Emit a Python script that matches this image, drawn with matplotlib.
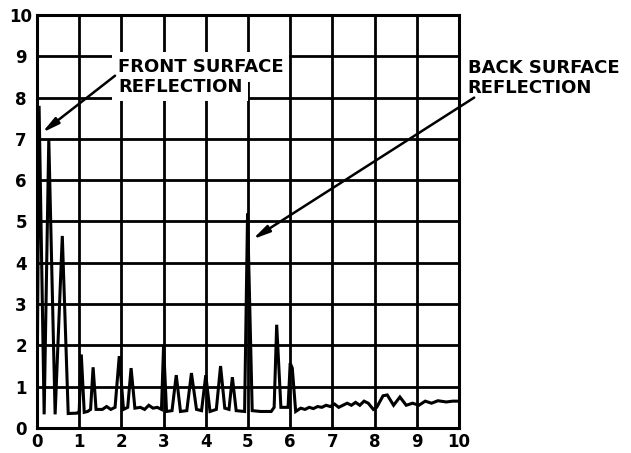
import matplotlib
matplotlib.use("Agg")
import matplotlib.pyplot as plt

# A-scan trace: time base (divisions) and echo amplitude (divisions)
trace_x = [0.00, 0.05, 0.17, 0.28, 0.43, 0.60, 0.74, 0.95, 1.00, 1.05, 1.12, 1.20,
           1.27, 1.33, 1.40, 1.55, 1.65, 1.75, 1.85, 1.95, 2.05, 2.15, 2.23, 2.32,
           2.45, 2.55, 2.65, 2.75, 2.85, 2.95, 3.00, 3.07, 3.20, 3.30, 3.40, 3.55,
           3.66, 3.78, 3.90, 4.00, 4.10, 4.25, 4.35, 4.45, 4.55, 4.63, 4.72, 4.92,
           4.99, 5.10, 5.30, 5.55, 5.62, 5.68, 5.78, 5.95, 6.00, 6.05, 6.13, 6.25,
           6.35, 6.45, 6.55, 6.65, 6.75, 6.85, 6.95, 7.05, 7.15, 7.25, 7.35, 7.45,
           7.55, 7.65, 7.75, 7.85, 7.97, 8.05, 8.20, 8.30, 8.45, 8.60, 8.75, 8.90,
           9.05, 9.20, 9.35, 9.50, 9.70, 9.85, 10.00]
trace_y = [0.40, 7.80, 0.33, 7.00, 0.33, 4.65, 0.35, 0.36, 0.40, 1.78, 0.38, 0.40,
           0.45, 1.47, 0.45, 0.45, 0.52, 0.45, 0.50, 1.74, 0.45, 0.50, 1.45, 0.48,
           0.50, 0.45, 0.55, 0.48, 0.50, 0.45, 2.00, 0.40, 0.42, 1.28, 0.40, 0.42,
           1.33, 0.45, 0.42, 1.28, 0.40, 0.45, 1.50, 0.48, 0.45, 1.23, 0.42, 0.40,
           5.20, 0.42, 0.40, 0.40, 0.50, 2.50, 0.50, 0.50, 1.57, 1.45, 0.40, 0.48,
           0.45, 0.50, 0.47, 0.52, 0.50, 0.55, 0.52, 0.58, 0.50, 0.55, 0.60, 0.55,
           0.62, 0.55, 0.65, 0.60, 0.45, 0.50, 0.78, 0.80, 0.55, 0.75, 0.55, 0.60,
           0.55, 0.65, 0.60, 0.66, 0.63, 0.65, 0.65]

x_ticks = list(range(0, 11))
y_ticks = list(range(0, 11))
x_tick_labels = [str(v) for v in x_ticks]
y_tick_labels = [str(v) for v in y_ticks]

front_label = ["FRONT SURFACE", "REFLECTION"]
back_label = ["BACK SURFACE", "REFLECTION"]
front_tip = (0.12, 7.15)
front_tail = (1.85, 8.53)
back_tip = (5.11, 4.57)
back_tail = (10.36, 8.00)

plt.rcParams["font.family"] = ["DejaVu Sans"]
fig = plt.figure(figsize=(6.31, 4.53), dpi=100)
ax = fig.add_axes([0.0586, 0.0552, 0.6688, 0.9117])
ax.set_xlim(0, 10)
ax.set_ylim(0, 10)

ax.set_xticks(x_ticks)
ax.set_yticks(y_ticks)
ax.set_xticklabels(x_tick_labels, fontsize=12, fontweight="bold")
ax.set_yticklabels(y_tick_labels, fontsize=12, fontweight="bold", ha="center")
ax.tick_params(axis="x", length=0, pad=3.6)
ax.tick_params(axis="y", length=0, pad=11.5)

ax.grid(True, color="black", lw=2.0, zorder=1)
ax.set_axisbelow(True)
for sp in ax.spines.values():
    sp.set_linewidth(2.2)
    sp.set_color("black")

ax.plot(trace_x, trace_y, color="black", lw=2.2, solid_joinstyle="miter", zorder=2)

text_kw = dict(fontsize=13, fontweight="bold", va="center", ha="left", zorder=5)
box = dict(facecolor="white", edgecolor="none", pad=4)
ax.text(1.92, 8.74, front_label[0], bbox=box, **text_kw)
ax.text(1.92, 8.26, front_label[1], bbox=box, **text_kw)
ax.text(10.21, 8.72, back_label[0], clip_on=False, **text_kw)
ax.text(10.21, 8.24, back_label[1], clip_on=False, **text_kw)

arrow = dict(arrowstyle="-|>,head_length=1.0,head_width=0.22", color="black",
             lw=1.8, shrinkA=0, shrinkB=0)
ax.annotate("", xy=front_tip, xytext=front_tail, arrowprops=arrow,
            annotation_clip=False, zorder=6)
ax.annotate("", xy=back_tip, xytext=back_tail, arrowprops=arrow,
            annotation_clip=False, zorder=6)

fig.savefig("out.png", dpi=100, facecolor="white")
